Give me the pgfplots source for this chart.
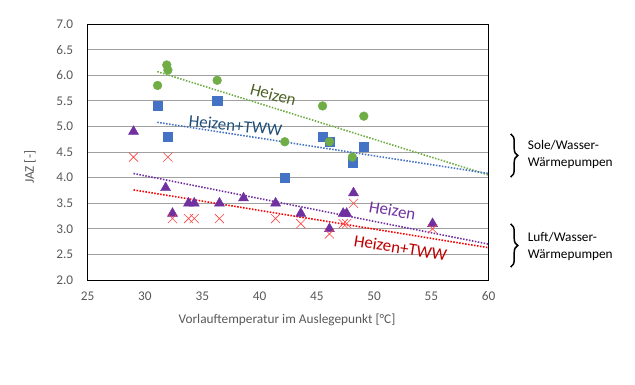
\documentclass[border=0pt]{standalone}
\usepackage{fontspec}
\setmainfont{Carlito}
\usepackage{pgfplots}
\pgfplotsset{compat=1.18}
\usetikzlibrary{decorations.pathreplacing}
\definecolor{tickgray}{HTML}{595959}
\definecolor{gridgray}{HTML}{A0A0A0}
\definecolor{cgreen}{HTML}{70AD47}
\definecolor{cblue}{HTML}{4472C4}
\definecolor{cpurple}{HTML}{7030A0}
\definecolor{cred}{HTML}{FF0000}
\definecolor{cxred}{HTML}{FF4040}
\definecolor{lgreen}{HTML}{4F6228}
\definecolor{lblue}{HTML}{1F4E79}
\definecolor{lred}{HTML}{C00000}
\begin{document}
\begin{tikzpicture}
\useasboundingbox (-87.7pt,-105pt) rectangle (547.3pt,280pt);
\begin{axis}[
  at={(0pt,0pt)}, anchor=south west,
  scale only axis, width=401pt, height=256pt,
  xmin=25, xmax=60, ymin=2, ymax=7,
  xtick={25,30,...,60}, ytick={2,2.5,...,7},
  ymajorgrids, grid style={gridgray, line width=0.7pt},
  major tick length=0pt,
  axis line style={black, line width=0.8pt},
  /pgf/number format/assume math mode=true,
  tick label style={font=\fontsize{13.3}{15}\selectfont, text=tickgray},
  yticklabel style={/pgf/number format/fixed, /pgf/number format/fixed zerofill, /pgf/number format/precision=1, xshift=-11pt},
  xticklabel style={yshift=-8pt},
  xlabel={Vorlauftemperatur im Auslegepunkt [°C]},
  ylabel={JAZ [-]},
  label style={font=\fontsize{13.3}{15}\selectfont, text=tickgray},
  xlabel style={at={(axis description cs:0.497,0)}, anchor=center, yshift=-40pt},
  ylabel style={at={(axis description cs:-0.144,0.44)}, anchor=center},
  clip=false,
]
% Sole/Wasser Heizen+TWW (blue squares)
\addplot[only marks, mark=square*, mark size=4.6pt, color=cblue, mark options={draw=none}] coordinates {
(31.1,5.4) (32.0,4.8) (36.3,5.5) (42.2,4.0) (45.5,4.8) (46.1,4.7) (48.1,4.3) (49.1,4.6)};
% Sole/Wasser Heizen (green circles)
\addplot[only marks, mark=*, mark size=4.4pt, color=cgreen, mark options={draw=none}] coordinates {
(31.1,5.8) (31.9,6.2) (32.0,6.1) (36.3,5.9) (42.2,4.7) (45.5,5.4) (46.1,4.7) (48.1,4.4) (49.1,5.2)};
% Luft/Wasser Heizen (purple triangles)
\addplot[only marks, mark=triangle*, mark size=5.8pt, color=cpurple, mark options={draw=none}] coordinates {
(29.0,4.9) (31.8,3.8) (32.4,3.3) (33.8,3.5) (34.3,3.5) (36.5,3.5) (38.6,3.6) (41.4,3.5) (43.6,3.3) (46.1,3.0) (47.3,3.3) (47.6,3.3) (48.2,3.7) (55.1,3.1)};
% Luft/Wasser Heizen+TWW (red crosses)
\addplot[only marks, mark=x, mark size=6.4pt, color=cxred, mark options={line width=0.6pt}] coordinates {
(29.0,4.4) (32.0,4.4) (32.4,3.2) (33.8,3.2) (34.3,3.2) (36.5,3.2) (41.4,3.2) (43.6,3.1) (46.1,2.9) (47.3,3.1) (47.6,3.1) (48.2,3.5) (55.1,3.0)};
% trendlines
\addplot[cgreen, line width=1.6pt, dash pattern=on 1.5pt off 1.5pt] coordinates {(31.07,6.07) (60,4.05)};
\addplot[cblue, line width=1.6pt, dash pattern=on 1.5pt off 1.5pt] coordinates {(31.07,5.08) (60,4.08)};
\addplot[cpurple, line width=1.6pt, dash pattern=on 1.5pt off 1.5pt] coordinates {(29.0,4.08) (60,2.70)};
\addplot[cred, line width=1.6pt, dash pattern=on 1.5pt off 1.5pt] coordinates {(29.0,3.76) (60,2.63)};
% trendline labels
\node[lgreen, rotate=-15, font=\fontsize{17}{19}\selectfont, inner sep=0pt] at (axis cs:41.2,5.62) {Heizen};
\node[lblue, rotate=-6, font=\fontsize{17}{19}\selectfont, inner sep=0pt] at (axis cs:37.9,5.02) {Heizen+TWW};
\node[cpurple, rotate=-10, font=\fontsize{17}{19}\selectfont, inner sep=0pt] at (axis cs:51.6,3.36) {Heizen};
\node[lred, rotate=-9, font=\fontsize{17}{19}\selectfont, inner sep=0pt] at (axis cs:52.3,2.63) {Heizen+TWW};
\end{axis}
% group annotations
\draw[line width=1.5pt, decorate, decoration={brace, amplitude=7pt}] (423pt,146pt) -- (423pt,103pt);
\draw[line width=1.5pt, decorate, decoration={brace, amplitude=7pt}] (423pt,56pt) -- (423pt,13pt);
\node[anchor=west, font=\fontsize{13.3}{15}\selectfont, inner sep=0pt] at (440pt,135pt) {Sole/Wasser-};
\node[anchor=west, font=\fontsize{13.3}{15}\selectfont, inner sep=0pt] at (440pt,117pt) {Wärmepumpen};
\node[anchor=west, font=\fontsize{13.3}{15}\selectfont, inner sep=0pt] at (440pt,43pt) {Luft/Wasser-};
\node[anchor=west, font=\fontsize{13.3}{15}\selectfont, inner sep=0pt] at (440pt,25pt) {Wärmepumpen};
\end{tikzpicture}
\end{document}
